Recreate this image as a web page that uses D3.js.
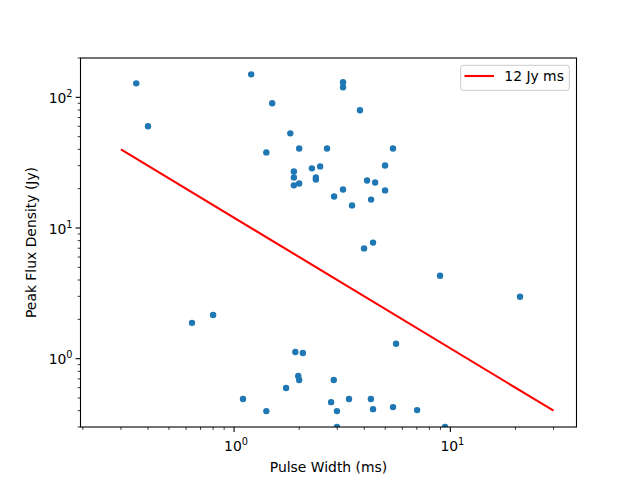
<!DOCTYPE html>
<html>
<head>
<meta charset="utf-8">
<script src="https://cdn.jsdelivr.net/npm/d3@7/dist/d3.min.js"></script>
<style>
  body { margin: 0; background: #fff; }
  svg text { font-family: "DejaVu Sans", sans-serif; fill: #000; }
</style>
</head>
<body>
<div id="chart"></div>
<script>
// pulse widths (ms) and peak flux densities (Jy)
var pulseWidth = [
    0.353, 0.400, 1.20, 1.50, 1.82, 1.41, 2.00, 2.69, 1.89, 1.89,
    1.89, 2.00, 2.29, 2.50, 2.39, 2.39, 3.19, 3.19, 3.82, 5.43,
    4.99, 4.12, 4.49, 4.99, 3.19, 2.90, 4.30, 3.51, 4.39, 3.99,
    8.96, 21.0, 5.61, 2.08, 2.89, 2.81, 2.99, 3.40, 4.29, 4.39,
    5.43, 7.02, 2.99, 9.45, 0.639, 0.800, 1.92, 1.98, 2.00, 1.74,
    1.10, 1.41
];
var peakFlux = [
    128, 60, 150, 90, 53, 37.9, 40.6, 40.6, 27.1, 24.4,
    21.2, 21.9, 28.6, 29.6, 24.4, 23.5, 130.6, 119.5, 79.6, 40.6,
    30.1, 23.1, 22.3, 19.4, 19.7, 17.4, 16.5, 14.9, 7.73, 6.98,
    4.31, 2.98, 1.30, 1.106, 0.686, 0.465, 0.397, 0.491, 0.491, 0.411,
    0.426, 0.404, 0.30, 0.30, 1.88, 2.16, 1.126, 0.737, 0.686, 0.596,
    0.491, 0.397
];

// constant fluence line, 12 Jy ms
var lineWidth = [0.3, 30];
var lineFlux = [40, 0.4];
var lineLabel = "12 Jy ms";

var xDomain = [0.195, 38.3];
var yDomain = [0.3, 200];
var xMajor = [1, 10];
var xMajorExp = ["0", "1"];
var yMajor = [1, 10, 100];
var yMajorExp = ["0", "1", "2"];

var width = 640, height = 480;
var margin = {left: 80.5, right: 63.5, top: 58, bottom: 53};
var fontSize = 13.9;

var svg = d3.select("#chart").append("svg")
    .attr("width", width)
    .attr("height", height);

var x = d3.scaleLog().domain(xDomain).range([margin.left, width - margin.right]);
var y = d3.scaleLog().domain(yDomain).range([height - margin.bottom, margin.top]);

var x0 = x.range()[0], x1 = x.range()[1];
var y0 = y.range()[1], y1 = y.range()[0];

svg.append("defs").append("clipPath").attr("id", "plotclip")
    .append("rect")
    .attr("x", x0).attr("y", y0)
    .attr("width", x1 - x0).attr("height", y1 - y0);

var plot = svg.append("g").attr("clip-path", "url(#plotclip)");

// minor tick positions for each decade
function minors(domain) {
    var out = [];
    var lo = Math.floor(Math.log10(domain[0])), hi = Math.ceil(Math.log10(domain[1]));
    for (var e = lo; e <= hi; e++) {
        for (var k = 2; k <= 9; k++) {
            var v = k * Math.pow(10, e);
            if (v >= domain[0] * 0.999 && v <= domain[1] * 1.001) out.push(v);
        }
    }
    return out;
}

// points
plot.selectAll("circle.pt")
    .data(d3.range(pulseWidth.length))
    .enter().append("circle")
    .attr("class", "pt")
    .attr("cx", function(i) { return x(pulseWidth[i]); })
    .attr("cy", function(i) { return y(peakFlux[i]); })
    .attr("r", 3.2)
    .style("fill", "#1f77b4");

// fluence line
var line = d3.line()
    .x(function(i) { return x(lineWidth[i]); })
    .y(function(i) { return y(lineFlux[i]); });

plot.append("path")
    .datum(d3.range(lineWidth.length))
    .attr("d", line)
    .style("fill", "none")
    .style("stroke", "red")
    .style("stroke-width", 2.1);

// axes frame
svg.append("rect")
    .attr("x", x0).attr("y", y0)
    .attr("width", x1 - x0).attr("height", y1 - y0)
    .style("fill", "none")
    .style("stroke", "#000")
    .style("stroke-width", 1.1);

var ticks = svg.append("g").style("stroke", "#000").style("stroke-width", 1.1);

// x ticks
xMajor.forEach(function(v) {
    ticks.append("line")
        .attr("x1", x(v)).attr("x2", x(v))
        .attr("y1", y1).attr("y2", y1 + 4.9);
});
minors(xDomain).forEach(function(v) {
    ticks.append("line")
        .attr("x1", x(v)).attr("x2", x(v))
        .attr("y1", y1).attr("y2", y1 + 2.8)
        .style("stroke-width", 0.8);
});

// y ticks
yMajor.forEach(function(v) {
    ticks.append("line")
        .attr("x1", x0).attr("x2", x0 - 4.9)
        .attr("y1", y(v)).attr("y2", y(v));
});
minors(yDomain).forEach(function(v) {
    ticks.append("line")
        .attr("x1", x0).attr("x2", x0 - 2.8)
        .attr("y1", y(v)).attr("y2", y(v))
        .style("stroke-width", 0.8);
});

// tick labels, 10 with superscript exponent
function powLabel(g, exp, anchor) {
    var t = g.append("text")
        .style("font-size", fontSize + "px")
        .attr("text-anchor", anchor);
    t.append("tspan").text("10");
    t.append("tspan")
        .attr("dy", -6)
        .style("font-size", (fontSize * 0.7) + "px")
        .text(exp);
    return t;
}

xMajor.forEach(function(v, i) {
    powLabel(svg, xMajorExp[i], "middle")
        .attr("x", x(v) + 2)
        .attr("y", y1 + 24);
});

yMajor.forEach(function(v, i) {
    powLabel(svg, yMajorExp[i], "end")
        .attr("x", x0 - 8)
        .attr("y", y(v) + 5.5);
});

// axis titles
svg.append("text")
    .attr("x", (x0 + x1) / 2)
    .attr("y", y1 + 44.5)
    .attr("text-anchor", "middle")
    .style("font-size", fontSize + "px")
    .text("Pulse Width (ms)");

svg.append("text")
    .attr("transform", "translate(36," + ((y0 + y1) / 2) + ")rotate(-90)")
    .attr("text-anchor", "middle")
    .style("font-size", fontSize + "px")
    .text("Peak Flux Density (Jy)");

// legend
var leg = svg.append("g");
leg.append("rect")
    .attr("x", 460.7).attr("y", 65.3)
    .attr("width", 108.6).attr("height", 25)
    .attr("rx", 2.5)
    .style("fill", "#fff")
    .style("fill-opacity", 0.8)
    .style("stroke", "#ccc")
    .style("stroke-width", 1);
leg.append("line")
    .attr("x1", 464.5).attr("x2", 494)
    .attr("y1", 76).attr("y2", 76)
    .style("stroke", "red")
    .style("stroke-width", 2.1);
leg.append("text")
    .attr("x", 504.3).attr("y", 81)
    .style("font-size", fontSize + "px")
    .text(lineLabel);
</script>
</body>
</html>
